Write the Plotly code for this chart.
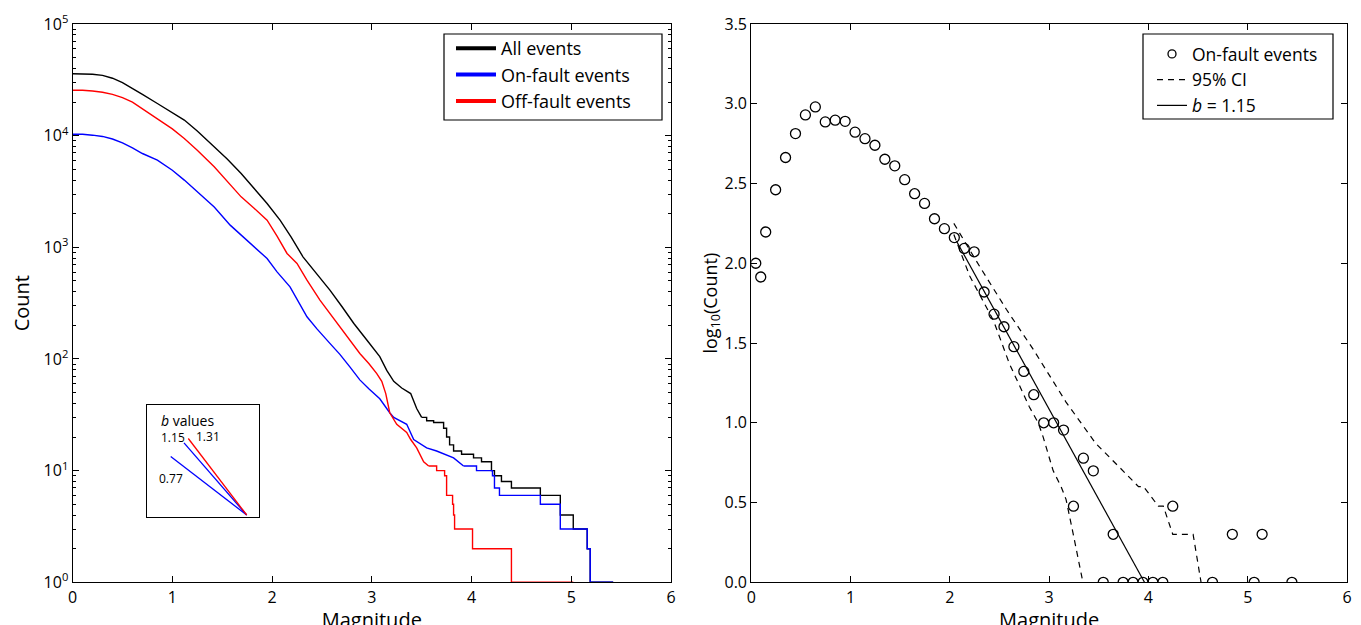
import plotly.graph_objects as go

# ---------------- Left panel data: cumulative counts N(>=M) ----------------
all_head_m = [0.00, 0.10, 0.20, 0.30, 0.40, 0.50, 0.60, 0.70, 0.85, 1.00, 1.12, 1.25, 1.42, 1.55,
              1.69, 1.82, 1.95, 2.08, 2.19, 2.31, 2.42, 2.58, 2.70, 2.82, 2.95, 3.08, 3.15, 3.22,
              3.30, 3.39, 3.45, 3.50]
all_head_n = [35900, 35800, 35500, 34700, 32700, 29900, 26600, 23400, 19400, 16200, 13800, 11000,
              7940, 6170, 4590, 3390, 2470, 1750, 1240, 822, 625, 414, 295, 208, 148, 105, 79, 63,
              55, 49, 36, 30]
all_tail_m = [3.55, 3.62, 3.72, 3.75, 3.78, 3.82, 3.90, 4.02, 4.10, 4.20, 4.23, 4.30, 4.40,
              4.69, 4.89, 5.02, 5.16, 5.19, 5.42]
all_tail_n = [28, 27, 24, 20, 17, 15, 14, 13, 12, 10, 9, 8, 7, 6, 4, 3, 2, 1, 1]

on_head_m = [0.00, 0.10, 0.20, 0.30, 0.40, 0.50, 0.60, 0.70, 0.85, 1.00, 1.12, 1.25, 1.42, 1.58,
             1.69, 1.82, 1.95, 2.05, 2.18, 2.35, 2.45, 2.58, 2.68, 2.78, 2.88, 2.97, 3.08, 3.18,
             3.22, 3.35, 3.42, 3.55, 3.65, 3.82, 3.92]
on_head_n = [10300, 10300, 10100, 9840, 9330, 8610, 7760, 6920, 6040, 4900, 4000, 3160, 2300,
             1580, 1290, 1000, 794, 603, 443, 239, 186, 138, 110, 85, 65, 54, 44, 33, 30, 26, 19,
             16, 15, 13, 11]
on_tail_m = [4.05, 4.21, 4.23, 4.28, 4.69, 4.89, 5.16, 5.19, 5.42]
on_tail_n = [10, 9, 7, 6, 5, 3, 2, 1, 1]

off_head_m = [0.00, 0.10, 0.20, 0.30, 0.40, 0.50, 0.60, 0.70, 0.85, 1.00, 1.12, 1.25, 1.42, 1.55,
              1.69, 1.82, 1.95, 2.05, 2.15, 2.25, 2.35, 2.48, 2.58, 2.68, 2.78, 2.88, 2.97, 3.05,
              3.10, 3.14, 3.18, 3.25, 3.35, 3.39, 3.45, 3.52, 3.57]
off_head_n = [25500, 25500, 25100, 24500, 23400, 21900, 20000, 17400, 14300, 11500, 9440, 7410,
              5260, 3890, 2830, 2240, 1750, 1260, 881, 718, 508, 337, 257, 194, 148, 112, 91, 74,
              63, 49, 33, 26, 22, 19, 16, 12, 11]
off_tail_m = [3.65, 3.73, 3.75, 3.81, 3.82, 3.83, 4.01, 4.40, 5.02]
off_tail_n = [10, 9, 6, 5, 4, 3, 2, 1, 1]

# inset: b values and line lengths (pixels along x)
inset_b = [0.77, 1.15, 1.31]
inset_dx = [76.0, 62.7, 58.4]
inset_colors = ["#0000ff", "#0000ff", "#ff0000"]

# ---------------- Right panel data ----------------
on_bin_m = [0.045, 0.095, 0.145, 0.245, 0.345, 0.445, 0.545, 0.645, 0.745, 0.845, 0.945, 1.045,
            1.145, 1.245, 1.345, 1.445, 1.545, 1.645, 1.745, 1.845, 1.945, 2.045, 2.145, 2.245,
            2.345, 2.445, 2.545, 2.645, 2.745, 2.845, 2.945, 3.045, 3.145, 3.245, 3.345, 3.445,
            3.545, 3.645, 3.745, 3.845, 3.945, 4.045, 4.145, 4.245, 4.645, 4.845, 5.065, 5.145,
            5.445]
on_bin_log = [2.000, 1.914, 2.196, 2.461, 2.663, 2.813, 2.930, 2.980, 2.886, 2.897, 2.890, 2.822,
              2.781, 2.740, 2.652, 2.611, 2.524, 2.436, 2.375, 2.279, 2.217, 2.161, 2.093, 2.072,
              1.820, 1.681, 1.602, 1.477, 1.322, 1.176, 1.000, 1.000, 0.954, 0.477, 0.778, 0.699,
              0.000, 0.301, 0.000, 0.000, 0.000, 0.000, 0.000, 0.477, 0.000, 0.301, 0.000, 0.301,
              0.000]

fit_m = [2.066, 3.96]
fit_log = [2.14, 0.0]

ci_up_m = [2.04, 2.30, 2.57, 2.84, 3.17, 3.47, 3.71, 3.90, 3.95, 4.10, 4.15, 4.245, 4.45, 4.53]
ci_up_log = [2.25, 1.98, 1.71, 1.46, 1.13, 0.87, 0.72, 0.60, 0.60, 0.477, 0.477, 0.301, 0.301, 0.0]
ci_lo_m = [2.04, 2.20, 2.44, 2.60, 2.80, 2.89, 2.94, 3.04, 3.12, 3.17, 3.24, 3.34]
ci_lo_log = [2.18, 1.92, 1.64, 1.37, 1.10, 1.00, 0.91, 0.70, 0.60, 0.52, 0.31, 0.0]

x_ticks = [0, 1, 2, 3, 4, 5, 6]
ly_tickvals = [1, 10, 100, 1000, 10000, 100000]
ly_ticktext = ["10<sup>0</sup>", "10<sup>1</sup>", "10<sup>2</sup>", "10<sup>3</sup>",
               "10<sup>4</sup>", "10<sup>5</sup>"]
ry_ticks = [0.0, 0.5, 1.0, 1.5, 2.0, 2.5, 3.0, 3.5]

# ---------------- Figure ----------------
W, H = 1361, 625
PAGE_OFF = 8  # page body margin
FONT = "Open Sans"
BLACK, BLUE, RED = "#000000", "#0000ff", "#ff0000"


def fx(p):
    return (p - PAGE_OFF) / W


def fy(p):
    return 1 - (p - PAGE_OFF) / H


fig = go.Figure()


def add_series(hm, hn, tm, tn, color):
    fig.add_trace(go.Scatter(x=hm, y=hn, mode="lines", line=dict(color=color, width=1.4),
                             showlegend=False, xaxis="x", yaxis="y", hoverinfo="skip"))
    fig.add_trace(go.Scatter(x=[hm[-1]] + tm, y=[hn[-1]] + tn, mode="lines",
                             line=dict(color=color, width=1.4, shape="hv"),
                             showlegend=False, xaxis="x", yaxis="y", hoverinfo="skip"))


add_series(all_head_m, all_head_n, all_tail_m, all_tail_n, BLACK)
add_series(on_head_m, on_head_n, on_tail_m, on_tail_n, BLUE)
add_series(off_head_m, off_head_n, off_tail_m, off_tail_n, RED)

for name, color in [("All events", BLACK), ("On-fault events", BLUE), ("Off-fault events", RED)]:
    fig.add_trace(go.Scatter(x=[None], y=[None], mode="lines", name=name,
                             line=dict(color=color, width=4), xaxis="x", yaxis="y",
                             legend="legend"))

# inset lines (pixel units, converge at common point)
conv_x, conv_y = 99.4, 2.3
for b, dx, c in zip(inset_b, inset_dx, inset_colors):
    fig.add_trace(go.Scatter(x=[conv_x - dx, conv_x], y=[conv_y + b * dx, conv_y], mode="lines",
                             line=dict(color=c, width=1.3), showlegend=False,
                             xaxis="x3", yaxis="y3", hoverinfo="skip"))

# right panel
fig.add_trace(go.Scatter(x=on_bin_m, y=on_bin_log, mode="markers",
                         marker=dict(symbol="circle-open", size=10, color=BLACK,
                                     line=dict(width=1.3, color=BLACK)),
                         showlegend=False, xaxis="x2", yaxis="y2", hoverinfo="skip"))
fig.add_trace(go.Scatter(x=[None], y=[None], mode="markers", name="On-fault events",
                         marker=dict(symbol="circle-open", size=8, color=BLACK,
                                     line=dict(width=1.3, color=BLACK)),
                         xaxis="x2", yaxis="y2", legend="legend2"))
fig.add_trace(go.Scatter(x=ci_up_m, y=ci_up_log, mode="lines", name="95% CI",
                         line=dict(color=BLACK, width=1.2, dash="6px,5px"),
                         xaxis="x2", yaxis="y2", legend="legend2", hoverinfo="skip"))
fig.add_trace(go.Scatter(x=ci_lo_m, y=ci_lo_log, mode="lines", showlegend=False,
                         line=dict(color=BLACK, width=1.2, dash="6px,5px"),
                         xaxis="x2", yaxis="y2", hoverinfo="skip"))
fig.add_trace(go.Scatter(x=fit_m, y=fit_log, mode="lines", name="<i>b</i> = 1.15",
                         line=dict(color=BLACK, width=1.2),
                         xaxis="x2", yaxis="y2", legend="legend2", hoverinfo="skip"))

left_dom = [fx(72.6), fx(671.0)]
right_dom = [fx(751.3), fx(1347.0)]
y_dom = [fy(582.3), fy(24.0)]

axis_common = dict(showline=True, linecolor=BLACK, linewidth=1.2, mirror="allticks",
                   ticks="inside", ticklen=6, tickwidth=1, tickcolor=BLACK,
                   showgrid=False, zeroline=False, automargin=False,
                   tickfont=dict(family=FONT, size=16, color=BLACK))

legend_boxes = [(444, 662, 34, 120), (1143, 1333, 34, 119)]
shapes = [dict(type="rect", xref="paper", yref="paper", x0=fx(a), x1=fx(b), y0=fy(d), y1=fy(c),
               line=dict(color=BLACK, width=1.2), fillcolor="white", layer="above")
          for a, b, c, d in legend_boxes]

fig.update_layout(
    width=W, height=H,
    margin=dict(l=0, r=0, t=0, b=0, autoexpand=False),
    paper_bgcolor="white", plot_bgcolor="white",
    font=dict(family=FONT, color=BLACK),
    shapes=shapes,
    xaxis=dict(domain=left_dom, range=[0, 6], tickvals=x_ticks, anchor="y",
               title=dict(text="Magnitude", font=dict(size=20), standoff=6), **axis_common),
    yaxis=dict(domain=y_dom, type="log", range=[0, 5], tickvals=ly_tickvals, ticktext=ly_ticktext,
               anchor="x",
               minor=dict(ticks="inside", ticklen=3, tickcolor=BLACK, dtick="D1", showgrid=False),
               title=dict(text="Count", font=dict(size=20), standoff=14), **axis_common),
    xaxis2=dict(domain=right_dom, range=[0, 6], tickvals=x_ticks, anchor="y2",
                title=dict(text="Magnitude", font=dict(size=20), standoff=6), **axis_common),
    yaxis2=dict(domain=y_dom, range=[0, 3.5], tickvals=ry_ticks, tickformat=".1f", anchor="x2",
                title=dict(text="log<sub>10</sub>(Count)", font=dict(size=18), standoff=2),
                **axis_common),
    xaxis3=dict(domain=[fx(147.3), fx(259.3)], range=[0, 112.0], anchor="y3", automargin=False,
                showline=True, linecolor=BLACK, linewidth=1.2, mirror=True,
                showticklabels=False, ticks="", showgrid=False, zeroline=False, fixedrange=True),
    yaxis3=dict(domain=[fy(517.3), fy(405.0)], range=[0, 112.3], anchor="x3",
                automargin=False,
                showline=True, linecolor=BLACK, linewidth=1.2, mirror=True,
                showticklabels=False, ticks="", showgrid=False, zeroline=False, fixedrange=True),
    legend=dict(x=fx(451), y=fy(30), xanchor="left", yanchor="top",
                borderwidth=0, bgcolor="rgba(0,0,0,0)", itemwidth=40,
                font=dict(family=FONT, size=18, color=BLACK), tracegroupgap=0),
    legend2=dict(x=fx(1152), y=fy(36), xanchor="left", yanchor="top",
                 borderwidth=0, bgcolor="rgba(0,0,0,0)",
                 font=dict(family=FONT, size=17.5, color=BLACK), tracegroupgap=0),
    annotations=[
        dict(x=11.7, y=97.0, xref="x3", yref="y3", text="<i>b</i> values", showarrow=False,
             xanchor="left", yanchor="middle", font=dict(family=FONT, size=14, color=BLACK)),
        dict(x=25.4, y=79.4, xref="x3", yref="y3", text="1.15", showarrow=False,
             xanchor="center", yanchor="middle", font=dict(family=FONT, size=12, color=BLACK)),
        dict(x=61.0, y=80.4, xref="x3", yref="y3", text="1.31", showarrow=False,
             xanchor="center", yanchor="middle", font=dict(family=FONT, size=12, color=BLACK)),
        dict(x=23.4, y=39.0, xref="x3", yref="y3", text="0.77", showarrow=False,
             xanchor="center", yanchor="middle", font=dict(family=FONT, size=12, color=BLACK)),
    ],
)

fig.write_html("out.html")
